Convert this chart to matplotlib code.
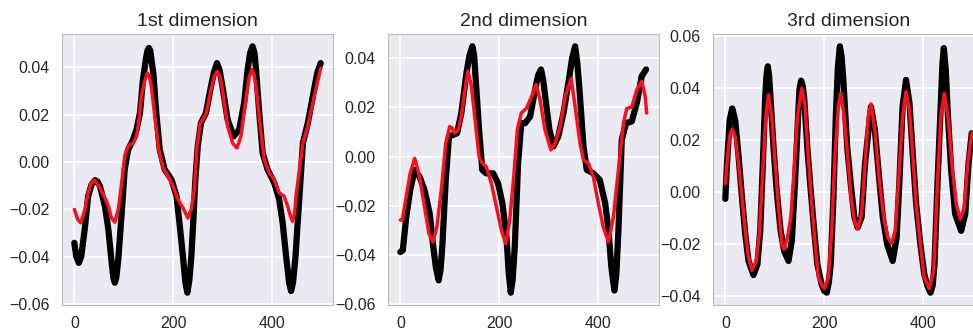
#Import helpful toolboxes etc
import matplotlib
matplotlib.use('Agg')
import matplotlib.pyplot as plt
import seaborn as sns

#panel titles
titles = ['1st dimension', '2nd dimension', '3rd dimension']

#-------------------------------------
#1st dimension - true signal (black) and reconstruction (red)
d1_true_x = [0, 4, 9, 14, 21, 28, 35, 42, 47, 52, 62, 69, 75, 79, 82, 85, 89, 96, 102, 109, 119, 126,
             133, 139, 145, 148, 151, 154, 157, 160, 166, 173, 183, 197, 207, 213, 220, 225, 229, 233,
             237, 241, 245, 250, 256.5, 266.6, 276.8, 283, 289, 294, 300, 310.5, 322.7, 334, 344, 351,
             356, 361, 365, 368, 374.6, 381.4, 391.5, 405, 415, 422, 429, 435, 439, 443, 448, 452,
             456, 463, 473, 483, 492, 499]
d1_true_y = [-0.0342, -0.040, -0.0427, -0.040, -0.0286, -0.0145, -0.0095, -0.0077, -0.0083, -0.0103,
             -0.0187, -0.0286, -0.0413, -0.049, -0.0511, -0.049, -0.0413, -0.0215, -0.0032, 0.0052,
             0.0094, 0.0137, 0.0207, 0.0348, 0.0435, 0.047, 0.0482, 0.047, 0.042, 0.0376, 0.0207,
             0.0052, -0.0032, -0.0075, -0.0145, -0.0258, -0.0399, -0.051, -0.0553, -0.050, -0.040,
             -0.025, -0.008, 0.0066, 0.0165, 0.0207, 0.032, 0.038, 0.0418, 0.039, 0.032, 0.0179,
             0.0108, 0.0137, 0.0249, 0.039, 0.046, 0.0489, 0.046, 0.039, 0.0207, 0.0038, -0.0032,
             -0.0089, -0.0159, -0.0258, -0.0399, -0.051, -0.0546, -0.051, -0.040, -0.027, -0.0145,
             0.008, 0.0165, 0.0277, 0.0376, 0.0418]
d1_pred_x = [0, 7, 13, 21.5, 28, 34, 40, 46, 52, 62, 69, 75, 82, 89, 96, 102, 109, 119, 126, 131, 136,
             142, 148, 152, 156, 163, 171, 180, 190, 200, 210, 220, 230, 237, 243, 248.6, 255, 266.6,
             276.8, 283, 289, 295, 300, 310.5, 320.6, 329.4, 337.5, 345.6, 354.4, 360, 364, 368,
             376.6, 384.7, 394.8, 405, 415, 425, 432, 438, 442, 446, 449, 456, 463, 473, 483, 499]
d1_pred_y = [-0.0201, -0.0244, -0.0258, -0.0201, -0.0131, -0.009, -0.0077, -0.009, -0.011, -0.0152,
             -0.0187, -0.0237, -0.0255, -0.0201, -0.0089, 0.0024, 0.0066, 0.008, 0.0108, 0.0179,
             0.0277, 0.034, 0.0376, 0.0365, 0.032, 0.0193, 0.0052, -0.0025, -0.0061, -0.0103, -0.0159,
             -0.0194, -0.0237, -0.020, -0.0117, 0.0066, 0.0165, 0.02, 0.0306, 0.036, 0.0383, 0.036,
             0.0306, 0.0151, 0.008, 0.0059, 0.0108, 0.0235, 0.0362, 0.039, 0.037, 0.032, 0.0151,
             0.001, -0.0046, -0.0075, -0.0131, -0.0145, -0.0187, -0.023, -0.0251, -0.022, -0.0145,
             -0.0032, 0.008, 0.0151, 0.0249, 0.0397]

#-------------------------------------
#2nd dimension
d2_true_x = [0, 5, 12, 20, 29, 39, 49, 59.5, 66, 72, 77.7, 81.5, 85, 92, 98.6, 106.8, 115, 123.6, 134,
             140, 146, 149.5, 152.7, 159.5, 166, 174, 188, 198, 206.8, 215, 219.5, 223.7, 227.5,
             231.8, 238.5, 245, 253, 263, 273, 279, 285, 289.5, 293.4, 302, 310, 320, 330.5, 342.6,
             348, 354, 358.5, 362.9, 371, 377.7, 391, 404, 415, 421.5, 427.5, 433.6, 437.5, 441.8,
             448.5, 457.3, 468.8, 479, 489, 497.8]
d2_true_y = [-0.0388, -0.0381, -0.0245, -0.0136, -0.0054, -0.0082, -0.0136, -0.0231, -0.0354, -0.045,
             -0.0503, -0.046, -0.0367, -0.0095, 0.0082, 0.0088, 0.0095, 0.0177, 0.034, 0.041, 0.0448,
             0.041, 0.0313, 0.0109, -0.0054, -0.0068, -0.0068, -0.0109, -0.019, -0.0327, -0.047,
             -0.0553, -0.050, -0.0367, -0.0027, 0.0136, 0.0136, 0.0163, 0.0272, 0.033, 0.0354, 0.031,
             0.0245, 0.0109, 0.0041, 0.0082, 0.0177, 0.0327, 0.040, 0.0448, 0.038, 0.0272, 0.0041,
             -0.0054, -0.0068, -0.0095, -0.019, -0.0299, -0.045, -0.0544, -0.048, -0.0299, 0.0068,
             0.0136, 0.0143, 0.0218, 0.0327, 0.0354]
d2_pred_x = [0, 4, 12, 20, 29, 39, 49, 58, 66, 74, 83, 92, 100, 105, 110, 117, 123.6, 130, 137, 144,
             150.7, 159.5, 166, 174, 184.5, 194.6, 204.7, 213.5, 221.6, 229.7, 237, 245, 256, 266,
             275, 283, 293, 305, 313.6, 323.8, 334, 346, 354, 364, 371, 381, 391, 401, 411, 421.5,
             431.6, 441.8, 452, 458.6, 468.8, 479, 489, 496, 499]
d2_pred_y = [-0.0258, -0.0258, -0.0163, -0.0068, -0.0007, -0.0082, -0.0204, -0.0313, -0.0347, -0.0286,
             -0.0136, 0.0054, 0.0122, 0.0116, 0.0095, 0.0109, 0.0163, 0.0259, 0.0347, 0.0286,
             0.0163, 0.0, -0.0027, -0.0041, -0.0109, -0.0204, -0.0299, -0.0354, -0.0258, -0.0082,
             0.0109, 0.0177, 0.0197, 0.0245, 0.0293, 0.0231, 0.0109, 0.0027, 0.0054, 0.0122, 0.0245,
             0.0316, 0.0204, 0.0054, -0.0014, -0.0027, -0.0082, -0.019, -0.0286, -0.0347, -0.0245,
             -0.0054, 0.0136, 0.0195, 0.0201, 0.0272, 0.0306, 0.0245, 0.0177]

#-------------------------------------
#3rd dimension
d3_true_x = [0, 3.4, 8.8, 14, 20, 27, 33.7, 40.4, 47, 57, 65, 70.7, 76, 80.8, 83.5, 86, 88.5, 91, 97.6,
             104, 112, 119, 128, 134.7, 141.4, 146.8, 150, 153.5, 156.5, 159.6, 166, 173, 180, 186.5,
             195, 200, 205.4, 209.5, 213.5, 219, 224, 228, 232, 235.5, 239, 247, 254.7, 261.5, 268,
             276, 283, 295, 303, 312, 319, 327.7, 339, 347, 352.7, 359, 366, 373, 380, 386.5, 395,
             403, 409, 415.5, 420, 423.7, 430, 437, 440, 442.6, 446.5, 450.6, 457.5, 465.5, 477.7,
             486, 492.6, 499]
d3_true_y = [-0.0027, 0.0108, 0.0276, 0.0321, 0.0276, 0.0134, -0.0021, -0.0163, -0.0266, -0.032,
             -0.0279, -0.015, 0.0108, 0.0366, 0.045, 0.0483, 0.045, 0.0379, 0.0173, 0.0005, -0.015,
             -0.0227, -0.0266, -0.0188, 0.0044, 0.0263, 0.039, 0.0428, 0.041, 0.0366, 0.0173, 0.0005,
             -0.015, -0.0279, -0.0356, -0.038, -0.0388, -0.035, -0.0279, -0.0021, 0.0302, 0.048,
             0.056, 0.052, 0.0431, 0.017, 0.0018, -0.0098, -0.0137, -0.0098, 0.0108, 0.0328, 0.0237,
             0.0044, -0.0098, -0.0201, -0.0266, -0.0175, 0.0044, 0.0328, 0.0431, 0.0341, 0.0134,
             -0.0046, -0.0201, -0.0317, -0.036, -0.0388, -0.036, -0.0279, 0.0044, 0.0366, 0.050,
             0.0553, 0.047, 0.0302, 0.0083, -0.0085, -0.015, -0.0085, 0.0108, 0.0225]
d3_pred_x = [0, 3.4, 8.8, 14, 20, 27, 33.7, 40.4, 47, 54, 62.6, 69.4, 76, 82, 87.5, 94, 101, 107.7,
             114.5, 119, 126, 132.7, 139.4, 146, 155, 161.6, 168, 175, 182, 188.5, 195, 200.7, 208.8,
             215.5, 222, 229, 233.7, 240, 248, 254.7, 261.5, 268, 276, 283, 289.5, 295, 303, 312,
             321, 329, 337, 344, 351, 359, 366, 373, 380, 386.5, 395, 403, 413, 422, 430, 437, 443.7,
             452, 459, 467.6, 476, 484, 491, 499]
d3_pred_y = [0.0031, 0.0108, 0.0212, 0.024, 0.0212, 0.0108, -0.0021, -0.015, -0.0253, -0.0302,
             -0.0266, -0.015, 0.0083, 0.0289, 0.0373, 0.0289, 0.0108, -0.0059, -0.0201, -0.0221,
             -0.0175, -0.0098, 0.0083, 0.0289, 0.0399, 0.0328, 0.0134, -0.0046, -0.0201, -0.033,
             -0.0356, -0.0372, -0.033, -0.015, 0.0134, 0.0328, 0.0379, 0.0302, 0.0134, -0.0021,
             -0.0111, -0.0143, -0.0085, 0.0108, 0.0289, 0.0338, 0.0237, 0.0044, -0.0098, -0.0175,
             -0.0199, -0.015, 0.0044, 0.0289, 0.0386, 0.0315, 0.0134, -0.0046, -0.0201, -0.033,
             -0.0372, -0.0305, 0.0044, 0.0302, 0.0379, 0.0276, 0.0108, -0.0046, -0.0105, -0.0059,
             0.0108, 0.0225]

true_x = [d1_true_x, d2_true_x, d3_true_x]
true_y = [d1_true_y, d2_true_y, d3_true_y]
pred_x = [d1_pred_x, d2_pred_x, d3_pred_x]
pred_y = [d1_pred_y, d2_pred_y, d3_pred_y]

#-------------------------------------
#style - seaborn darkgrid, Arial-like font
sns.set_style('darkgrid')
plt.rcParams['font.family'] = ['Liberation Sans', 'DejaVu Sans']
plt.rcParams['axes.edgecolor'] = '#bcbcbc'
plt.rcParams['axes.linewidth'] = 0.8
plt.rcParams['grid.linewidth'] = 1.3

fig = plt.figure(figsize=(9.73, 3.32), dpi=100)

#axes positions in figure fraction (3rd panel runs off the right edge)
lefts = [62 / 973, 388 / 973, 713 / 973]
for n in range(3):
    ax = fig.add_axes([lefts[n], 27 / 332, 271 / 973, 271 / 332])
    ax.plot(true_x[n], true_y[n], color='black', linewidth=4.5,
            solid_joinstyle='round', solid_capstyle='round')
    ax.plot(pred_x[n], pred_y[n], color='#fa0f1e', linewidth=2.5,
            solid_joinstyle='round', solid_capstyle='round')
    ax.set_title(titles[n], fontsize=14, color='#262626', pad=6)
    ax.set_xticks([0, 200, 400])
    ax.tick_params(axis='both', labelsize=11.5, length=0, labelcolor='#262626')
    ax.tick_params(axis='y', pad=9)
    ax.tick_params(axis='x', pad=8)
    for s in ax.spines.values():
        s.set_visible(True)

fig.savefig('out.png', dpi=100)
